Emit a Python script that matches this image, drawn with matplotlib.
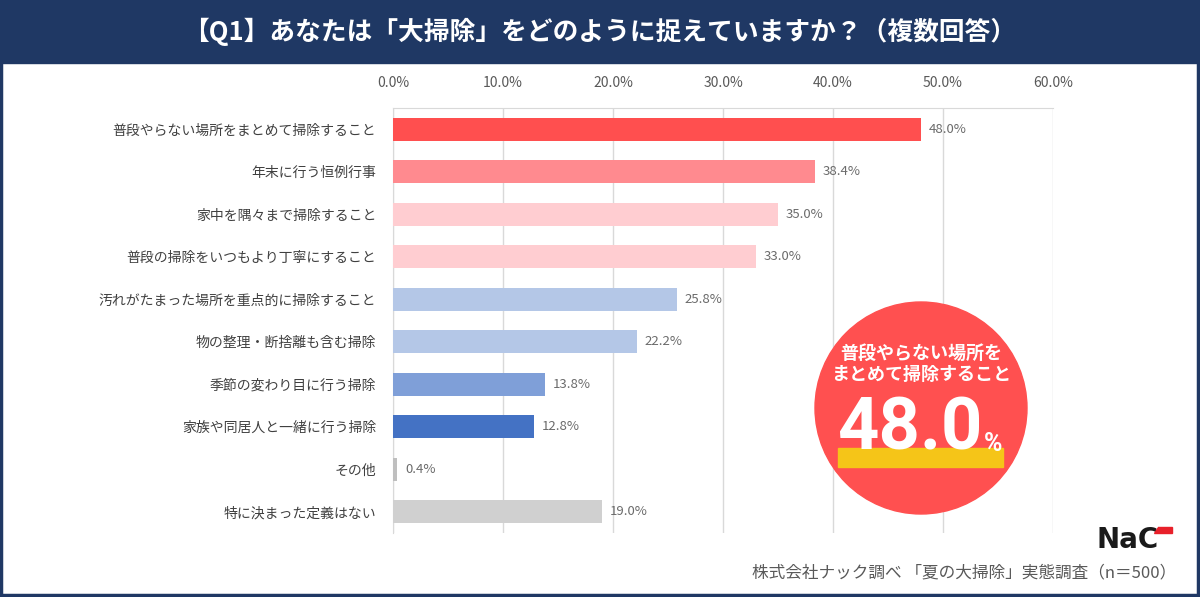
import matplotlib
matplotlib.use("Agg")
import matplotlib.pyplot as plt
from matplotlib.patches import Rectangle, Circle, Polygon
import numpy as np

plt.rcParams['font.family'] = ['Noto Sans CJK JP', 'DejaVu Sans']

title = "【Q1】あなたは「大掃除」をどのように捉えていますか？（複数回答）"
categories = [
    "普段やらない場所をまとめて掃除すること",
    "年末に行う恒例行事",
    "家中を隅々まで掃除すること",
    "普段の掃除をいつもより丁寧にすること",
    "汚れがたまった場所を重点的に掃除すること",
    "物の整理・断捨離も含む掃除",
    "季節の変わり目に行う掃除",
    "家族や同居人と一緒に行う掃除",
    "その他",
    "特に決まった定義はない",
]
values = [48.0, 38.4, 35.0, 33.0, 25.8, 22.2, 13.8, 12.8, 0.4, 19.0]
bar_colors = ["#FF4F4F", "#FF8A8F", "#FFCDD1", "#FFCDD1", "#B4C7E7", "#B4C7E7",
              "#7F9FD8", "#4472C4", "#BFBFBF", "#D0D0D0"]
xticks = [0, 10, 20, 30, 40, 50, 60]
highlight_label = "普段やらない場所を\nまとめて掃除すること"
highlight_value = "48.0"
source = "株式会社ナック調べ 「夏の大掃除」実態調査（n＝500）"

W, H = 1200, 597
fig = plt.figure(figsize=(W / 100, H / 100), dpi=100)
fig.patch.set_facecolor("white")

# main chart axes
ax = fig.add_axes([393 / W, 1 - 533 / H, 660 / W, 425 / H])
y = np.arange(len(categories))
ax.barh(y, values, height=0.55, color=bar_colors, zorder=3)
ax.set_xlim(0, 60)
ax.set_ylim(len(categories) - 0.5, -0.5)
ax.set_xticks(xticks)
ax.set_xticklabels([f"{t:.1f}%" for t in xticks], fontsize=10, color="#595959")
ax.xaxis.tick_top()
ax.tick_params(axis="x", length=0, pad=13)
ax.set_yticks(y)
ax.set_yticklabels(categories, fontsize=10, color="#404040")
ax.tick_params(axis="y", length=0, pad=12)
ax.grid(axis="x", color="#D9D9D9", linewidth=1, zorder=0)
for s in ["right", "bottom"]:
    ax.spines[s].set_visible(False)
ax.spines["left"].set_color("#D9D9D9")
ax.spines["top"].set_color("#D9D9D9")
for yi, v in zip(y, values):
    ax.text(v + 0.7, yi, f"{v:.1f}%", va="center", ha="left", fontsize=9.5,
            color="#6b6b6b", zorder=4)

# overlay in pixel coordinates
ov = fig.add_axes([0, 0, 1, 1], facecolor="none")
ov.set_xlim(0, W)
ov.set_ylim(H, 0)
ov.axis("off")

ov.add_patch(Rectangle((0, 0), W, 63, color="#1F3864", zorder=1))
ov.text(600, 32, title, ha="center", va="center", fontsize=18.5, fontweight="bold",
        color="white", zorder=2)
# frame border
ov.add_patch(Rectangle((1, 1), W - 3, H - 3, fill=False, edgecolor="#1F3864",
                       linewidth=2.5, zorder=2))

# highlight circle
ov.add_patch(Circle((921, 408), 106, color="#FF5050", zorder=5))
ov.text(921, 364, highlight_label, ha="center", va="center", fontsize=13,
        fontweight="bold", color="white", linespacing=1.15, zorder=6)
ov.add_patch(Rectangle((838, 448), 165, 19, color="#F5C518", zorder=6))
ov.text(837, 449, highlight_value, ha="left", va="baseline", fontsize=52,
        fontweight="bold", color="white", family=["Roboto", "Noto Sans"], zorder=7)
ov.text(984, 451, "%", ha="left", va="baseline", fontsize=18, fontweight="bold",
        color="white", family=["Roboto", "Noto Sans"], zorder=7)

# logo
ov.text(1128, 540, "NaC", ha="center", va="center", fontsize=20, fontweight="heavy",
        color="#1a1a1a", family="DejaVu Sans", zorder=6)
ov.add_patch(Polygon([(1158, 527), (1172, 527), (1172, 533), (1154, 533)],
                     closed=True, color="#E8202A", zorder=7))

ov.text(1176, 573, source, ha="right", va="center", fontsize=12, color="#595959")

fig.savefig("out.png", dpi=100, facecolor="white")
